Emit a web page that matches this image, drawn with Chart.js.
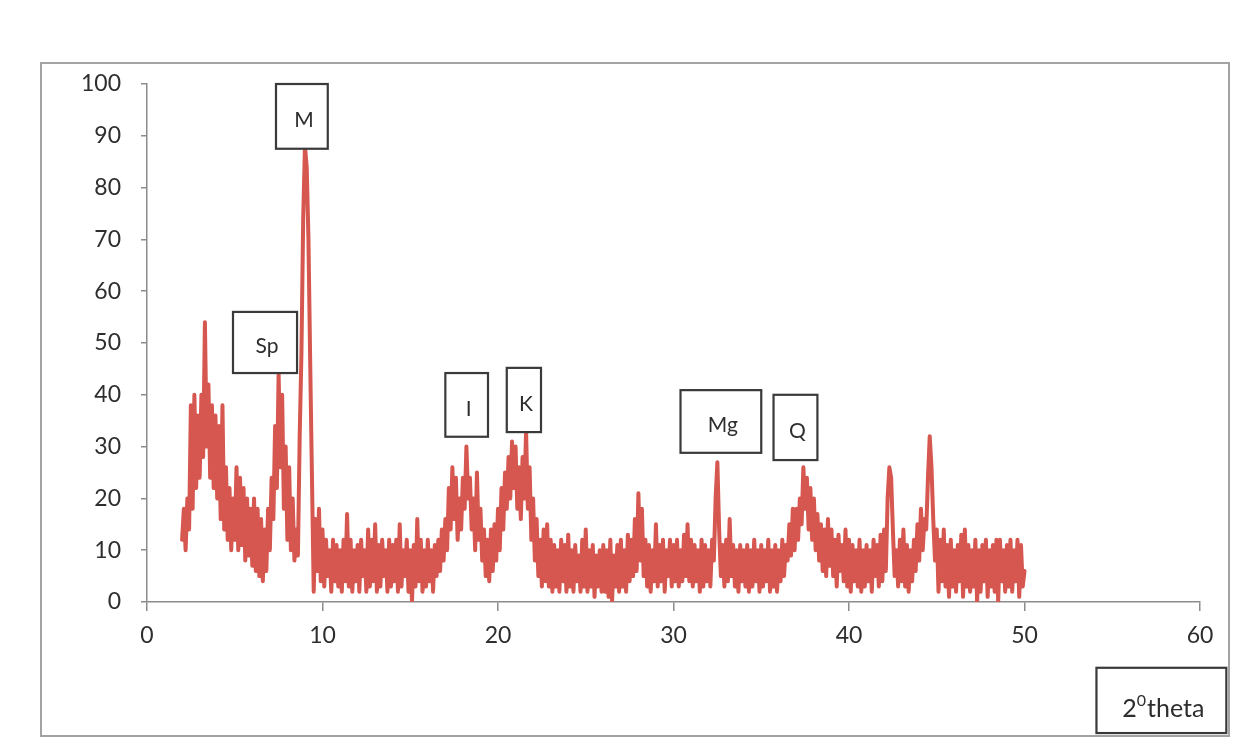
<!DOCTYPE html>
<html>
<head>
<meta charset="utf-8">
<title>XRD pattern</title>
<script src="https://cdn.jsdelivr.net/npm/chart.js@4.4.1/dist/chart.umd.min.js"></script>
<style>
    html, body { margin: 0; padding: 0; background: #ffffff; }
    #frame {
        position: absolute; left: 40px; top: 62px;
        width: 1190px; height: 675px;
        border: 2px solid #a3a3a3; box-sizing: border-box; background: #ffffff;
    }
    #xrd-chart { display: block; }
</style>
</head>
<body>
<div id="frame"><canvas id="xrd-chart" width="1186" height="671"></canvas></div>
<script>
// Datos del difractograma (intensidad relativa, paso de 0.1 grados 2theta)
const twoThetaStart = 2.0;
const twoThetaStep = 0.1;
const intensity = [
    12, 18, 10, 20, 14, 38, 18, 40, 22, 36,   // 2
    24, 40, 28, 54, 30, 42, 24, 38, 22, 36,   // 3
    20, 34, 16, 38, 14, 26, 12, 22, 10, 20,   // 4
    12, 26, 10, 24, 11, 22, 8, 20, 9, 18,     // 5
    7, 20, 6, 18, 5, 16, 4, 14, 6, 18,        // 6
    10, 24, 16, 34, 22, 44, 26, 40, 18, 30,   // 7
    12, 26, 10, 20, 8, 14, 9, 32, 48, 74,     // 8
    88, 84, 70, 46, 24, 2, 16, 6, 18, 4,      // 9
    14, 3, 12, 5, 10, 2, 12, 4, 11, 3,        // 10
    10, 2, 12, 4, 17, 3, 12, 2, 10, 4,        // 11
    11, 2, 12, 5, 10, 2, 14, 3, 12, 4,        // 12
    15, 2, 11, 3, 12, 5, 10, 2, 12, 3,        // 13
    11, 4, 12, 2, 15, 3, 10, 5, 12, 2,        // 14
    10, 0, 11, 3, 16, 4, 12, 2, 10, 3,        // 15
    12, 4, 10, 2, 11, 5, 12, 6, 14, 8,        // 16
    16, 10, 22, 14, 26, 16, 24, 12, 20, 14,   // 17
    24, 18, 30, 20, 24, 14, 20, 10, 25, 12,   // 18
    18, 8, 14, 5, 12, 4, 14, 6, 15, 8,        // 19
    18, 10, 22, 14, 25, 18, 28, 20, 31, 22,   // 20
    30, 18, 26, 16, 28, 20, 33, 18, 26, 12,   // 21
    20, 8, 16, 5, 12, 3, 14, 4, 15, 3,        // 22
    12, 2, 11, 3, 10, 2, 12, 4, 11, 2,        // 23
    13, 3, 10, 2, 11, 4, 9, 2, 12, 3,         // 24
    14, 2, 10, 3, 11, 1, 9, 3, 10, 2,         // 25
    11, 2, 10, 1, 12, 0, 9, 3, 11, 2,         // 26
    12, 3, 10, 2, 13, 4, 12, 5, 16, 6,        // 27
    21, 8, 18, 5, 12, 3, 11, 2, 10, 4,        // 28
    15, 3, 11, 4, 12, 2, 10, 5, 12, 3,        // 29
    11, 4, 12, 3, 10, 4, 13, 5, 15, 4,        // 30
    12, 3, 11, 4, 10, 2, 12, 3, 11, 4,        // 31
    10, 3, 12, 8, 20, 27, 14, 5, 11, 3,       // 32
    12, 4, 16, 5, 11, 3, 10, 2, 11, 4,        // 33
    10, 3, 11, 2, 10, 3, 12, 4, 10, 2,        // 34
    11, 3, 10, 4, 12, 2, 10, 3, 11, 2,        // 35
    10, 4, 12, 5, 11, 8, 15, 9, 18, 10,       // 36
    18, 12, 20, 15, 26, 18, 24, 14, 22, 12,   // 37
    20, 10, 17, 8, 15, 6, 14, 5, 16, 7,       // 38
    14, 5, 12, 3, 13, 6, 11, 4, 14, 3,        // 39
    12, 2, 11, 4, 10, 3, 12, 2, 10, 3,        // 40
    11, 4, 10, 2, 12, 5, 11, 3, 13, 4,        // 41
    14, 6, 20, 26, 24, 14, 5, 10, 3, 12,      // 42
    4, 14, 3, 11, 2, 10, 4, 12, 6, 15,        // 43
    8, 18, 10, 16, 14, 24, 32, 26, 16, 8,     // 44
    14, 2, 12, 4, 14, 3, 11, 1, 12, 3,        // 45
    10, 2, 11, 4, 13, 1, 14, 3, 11, 2,        // 46
    10, 3, 12, 0, 10, 2, 11, 4, 12, 1,        // 47
    10, 3, 11, 2, 12, 0, 12, 4, 10, 2,        // 48
    11, 3, 12, 2, 10, 4, 12, 1, 11, 3,        // 49
    6                                          // 50
];

// Etiquetas de los ejes
const xTicks = [0, 10, 20, 30, 40, 50, 60];
const yTicks = [0, 10, 20, 30, 40, 50, 60, 70, 80, 90, 100];

// Fases identificadas
const phaseLabels = ['M', 'Sp', 'I', 'K', 'Mg', 'Q'];

// Cajas de texto (coordenadas en unidades de datos: x1, x2, yTop, yBottom)
const phaseBoxes = [
    [7.35, 10.3, 100, 87.5],
    [4.9, 8.55, 56, 44.2],
    [17.0, 19.43, 44.2, 31.9],
    [20.5, 22.45, 45.2, 32.8],
    [30.4, 35.0, 40.9, 28.8],
    [35.7, 38.2, 40.0, 27.4]
];
const axisTitleBox = [54.1, 61.5, -12.7, -25.3];

const lineColor = '#d5574f';
const textColor = '#2e2e2e';
const axisColor = '#8c8c8c';

const points = intensity.map((v, i) => ({
    x: +(twoThetaStart + i * twoThetaStep).toFixed(1),
    y: v
}));

function boxRect(chart, b) {
    const xs = chart.scales.x, ys = chart.scales.y;
    const x1 = xs.getPixelForValue(b[0]), x2 = xs.getPixelForValue(b[1]);
    const y1 = ys.getPixelForValue(b[2]), y2 = ys.getPixelForValue(b[3]);
    return { x: x1, y: y1, w: x2 - x1, h: y2 - y1 };
}

function drawBox(ctx, r) {
    ctx.fillStyle = '#ffffff';
    ctx.fillRect(r.x, r.y, r.w, r.h);
    ctx.strokeStyle = '#3a3a3a';
    ctx.lineWidth = 2.2;
    ctx.strokeRect(r.x, r.y, r.w, r.h);
}

const phaseBoxPlugin = {
    id: 'phaseBoxes',
    afterDatasetsDraw(chart) {
        const ctx = chart.ctx;
        ctx.save();
        phaseLabels.forEach((label, i) => {
            const r = boxRect(chart, phaseBoxes[i]);
            drawBox(ctx, r);
            ctx.fillStyle = textColor;
            ctx.font = '21px Lato, "Open Sans", sans-serif';
            ctx.textAlign = 'center';
            ctx.textBaseline = 'middle';
            ctx.fillText(label, r.x + r.w / 2 + 2, r.y + r.h / 2 + 4);
        });

        // Título del eje x: 2^0 theta
        const t = boxRect(chart, axisTitleBox);
        drawBox(ctx, t);
        ctx.fillStyle = textColor;
        ctx.textBaseline = 'alphabetic';
        ctx.textAlign = 'left';
        const big = '25px Lato, "Open Sans", sans-serif';
        const small = '16px Lato, "Open Sans", sans-serif';
        ctx.font = big;
        const w2 = ctx.measureText('2').width;
        const wTheta = ctx.measureText('theta').width;
        ctx.font = small;
        const w0 = ctx.measureText('0').width;
        const total = w2 + w0 + 1 + wTheta;
        let x = t.x + (t.w - total) / 2 + 2;
        const base = t.y + t.h / 2 + 17;
        ctx.font = big;
        ctx.fillText('2', x, base);
        x += w2;
        ctx.font = small;
        ctx.fillText('0', x, base - 11);
        x += w0 + 1;
        ctx.font = big;
        ctx.fillText('theta', x, base);
        ctx.restore();
    }
};

const ctxXrd = document.getElementById('xrd-chart').getContext('2d');
const xrdChart = new Chart(ctxXrd, {
    type: 'line',
    data: {
        datasets: [{
            data: points,
            borderColor: lineColor,
            borderWidth: 4,
            borderJoinStyle: 'round',
            borderCapStyle: 'round',
            pointRadius: 0,
            tension: 0,
            fill: false
        }]
    },
    options: {
        responsive: false,
        animation: false,
        layout: { padding: { top: 20, right: 28, left: 0, bottom: 0 } },
        plugins: { legend: { display: false }, tooltip: { enabled: false } },
        scales: {
            x: {
                type: 'linear',
                min: 0, max: 60,
                afterBuildTicks(scale) { scale.ticks = xTicks.map(v => ({ value: v })); },
                afterFit(scale) { scale.height = 133; },
                grid: { drawOnChartArea: false, drawTicks: true, tickLength: 9, color: axisColor, lineWidth: 1.5 },
                border: { display: true, color: axisColor, width: 1.5 },
                ticks: { color: textColor, padding: 11, maxRotation: 0, font: { family: 'Lato', size: 23 } }
            },
            y: {
                min: 0, max: 100,
                afterBuildTicks(scale) { scale.ticks = yTicks.map(v => ({ value: v })); },
                afterFit(scale) {
                    scale.width = 105;
                    scale.paddingTop = 0;
                    scale.paddingBottom = 0;
                },
                grid: { drawOnChartArea: false, drawTicks: true, tickLength: 6, color: axisColor, lineWidth: 1.5 },
                border: { display: true, color: axisColor, width: 1.5 },
                ticks: { color: textColor, padding: 20, font: { family: 'Lato', size: 23 } }
            }
        }
    },
    plugins: [phaseBoxPlugin]
});
</script>
</body>
</html>
